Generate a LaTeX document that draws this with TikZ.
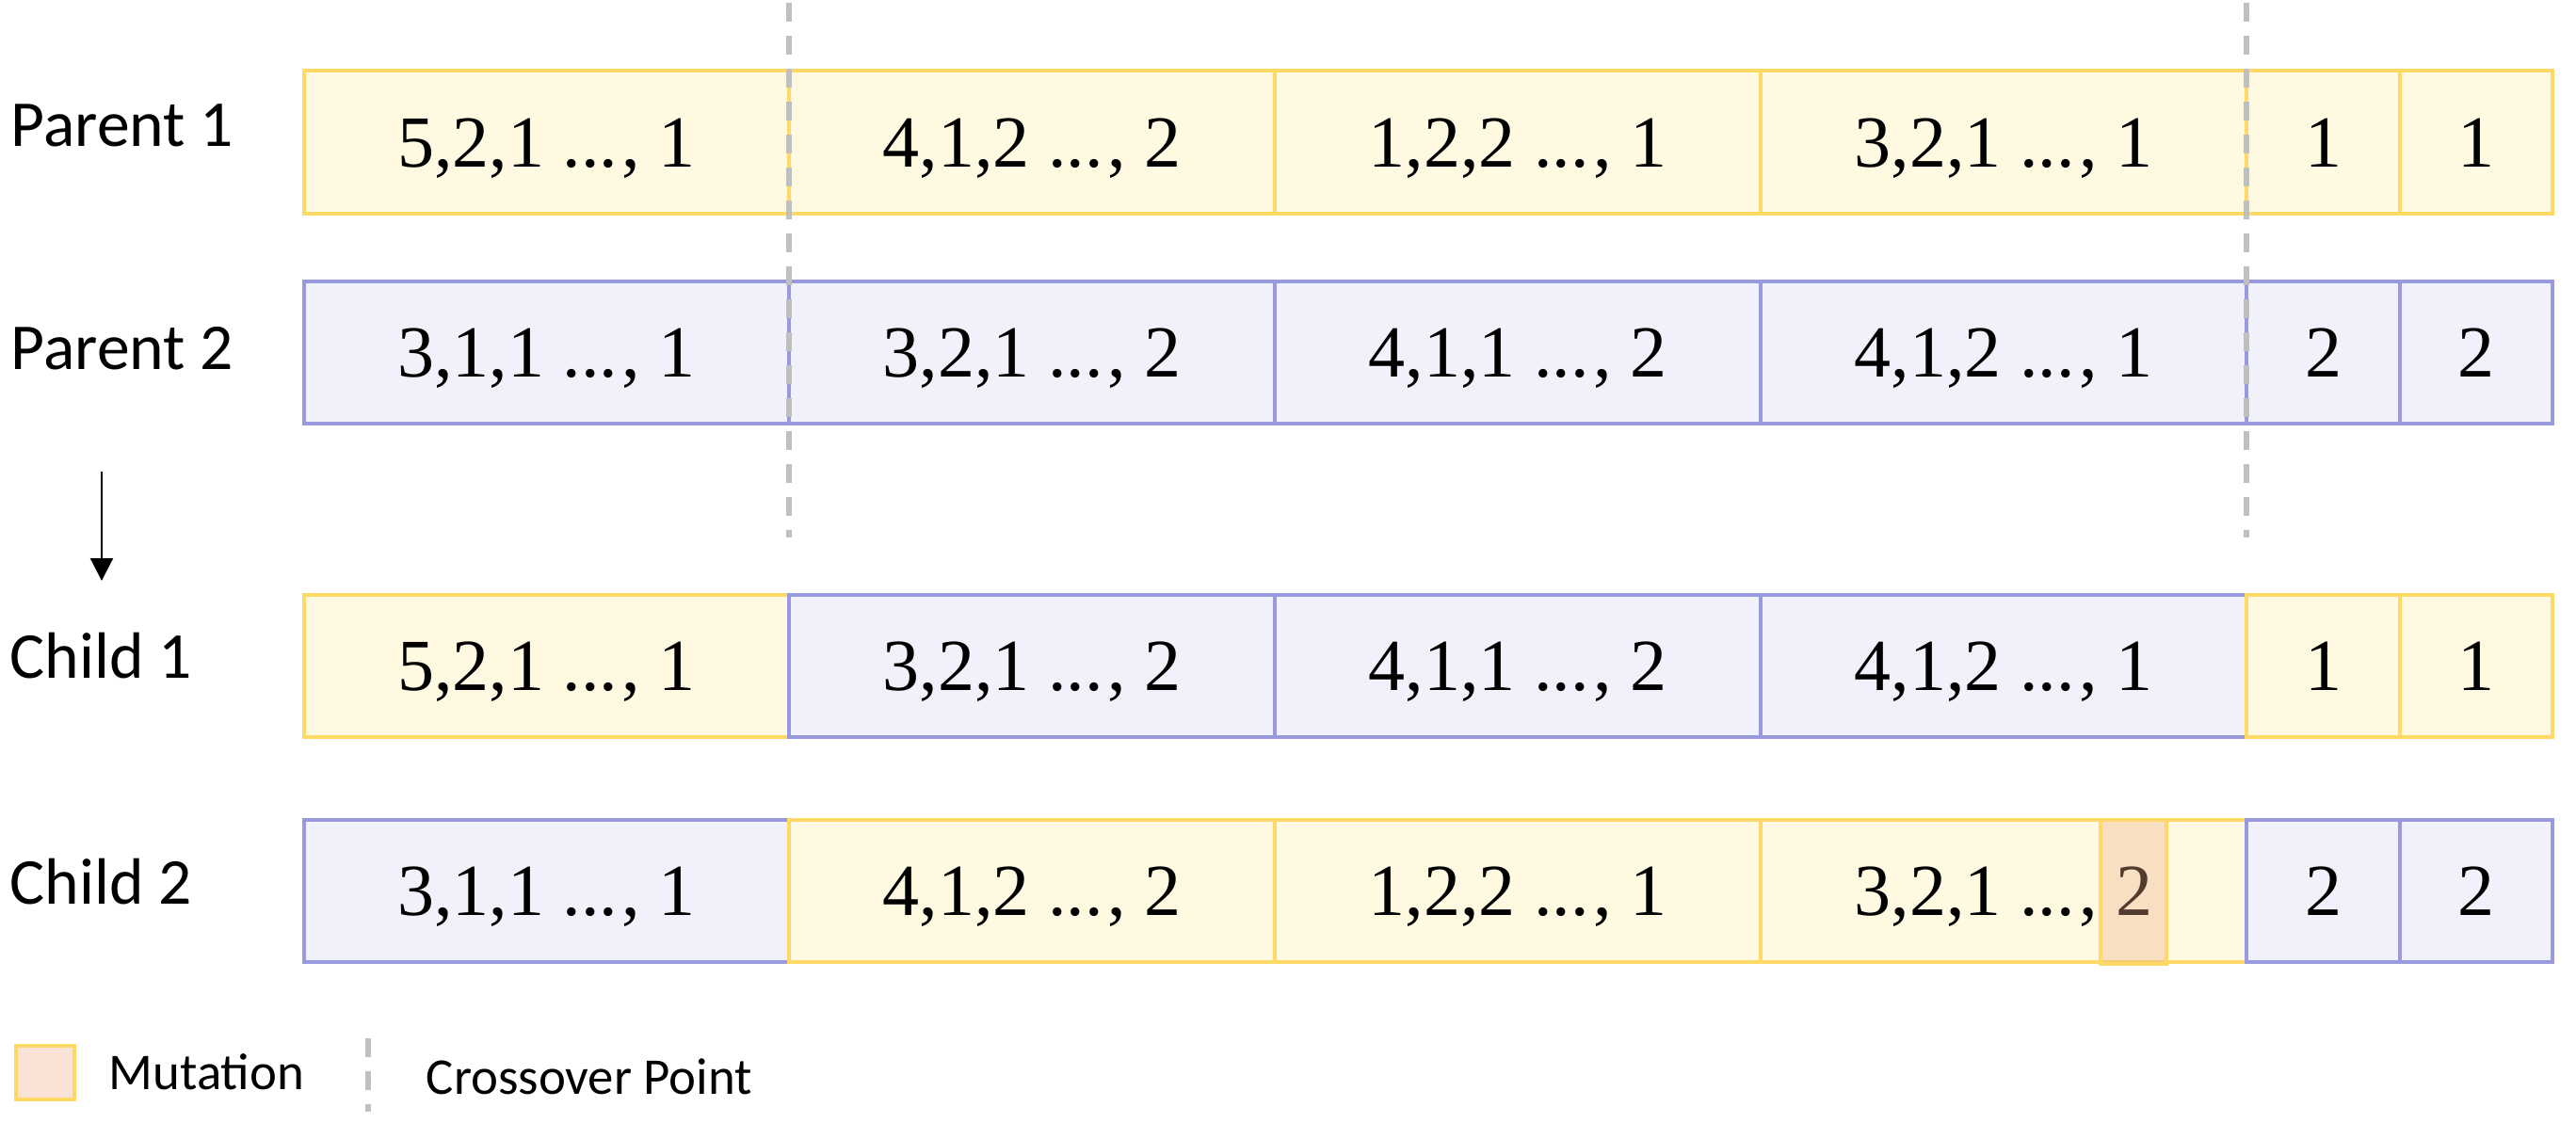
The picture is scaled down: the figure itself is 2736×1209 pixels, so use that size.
\documentclass[tikz,border=0pt]{standalone}
\usepackage{fontspec}
\setmainfont{Liberation Serif}
\newfontfamily\labfont{Carlito}
\usetikzlibrary{arrows.meta}
\definecolor{ybord}{HTML}{FFD966}
\definecolor{yfill}{HTML}{FFF9E1}
\definecolor{pbord}{HTML}{9999DD}
\definecolor{pfill}{HTML}{F0F1FA}
\definecolor{xgray}{HTML}{BFBFBF}
\definecolor{mutc}{RGB}{237,173,134}
\tikzset{
  cellbase/.style={rectangle, inner sep=0pt, line width=0.9pt,
    font=\fontsize{19.5}{22}\selectfont, text height=13.2pt, text depth=0pt},
  ycell/.style={cellbase, draw=ybord, fill=yfill},
  pcell/.style={cellbase, draw=pbord, fill=pfill},
  mutbox/.style={rectangle, inner sep=0pt, line width=0.9pt, draw=ybord,
    fill=mutc, fill opacity=0.34},
  rowlabel/.style={font=\labfont\fontsize{17.4}{20}\selectfont, anchor=base west, inner sep=0pt},
  leglabel/.style={font=\labfont\fontsize{13.7}{16}\selectfont, anchor=base west, inner sep=0pt},
  crossline/.style={draw=xgray, line width=1.3pt, dash pattern=on 5pt off 3.75pt},
  flowarrow/.style={draw=black, line width=0.55pt, -{Triangle[length=6pt,width=6pt]}}
}
% name, style, x1, x2, y1, y2, text
\newcommand\mkseg[7]{%
  \node[#2, minimum width={(#4-#3)*0.25pt}, minimum height={(#6-#5)*0.25pt}]
    (#1) at ({(#3+#4)/2},{(#5+#6)/2}) {#7};}
\newcommand\dts{...\kern1.2pt}
\begin{document}
\begin{tikzpicture}[x=0.25pt,y=-0.25pt]
\useasboundingbox (0,0) rectangle (2736,1209);

% row labels
\node[rowlabel] (lp1) at (11,155) {Parent 1};
\node[rowlabel] (lp2) at (11,392) {Parent 2};
\node[rowlabel] (lc1) at (10,720) {Child 1};
\node[rowlabel] (lc2) at (10,960) {Child 2};

% Parent 1
\mkseg{p1a}{ycell}{323}{838}{75}{227}{5,2,1 \dts, 1}
\mkseg{p1b}{ycell}{838}{1354}{75}{227}{4,1,2 \dts, 2}
\mkseg{p1c}{ycell}{1354}{1870}{75}{227}{1,2,2 \dts, 1}
\mkseg{p1d}{ycell}{1870}{2386}{75}{227}{3,2,1 \dts, 1}
\mkseg{p1e}{ycell}{2386}{2549}{75}{227}{1}
\mkseg{p1f}{ycell}{2549}{2711}{75}{227}{1}

% Parent 2
\mkseg{p2a}{pcell}{323}{838}{299}{450}{3,1,1 \dts, 1}
\mkseg{p2b}{pcell}{838}{1354}{299}{450}{3,2,1 \dts, 2}
\mkseg{p2c}{pcell}{1354}{1870}{299}{450}{4,1,1 \dts, 2}
\mkseg{p2d}{pcell}{1870}{2386}{299}{450}{4,1,2 \dts, 1}
\mkseg{p2e}{pcell}{2386}{2549}{299}{450}{2}
\mkseg{p2f}{pcell}{2549}{2711}{299}{450}{2}

% Child 1
\mkseg{c1a}{ycell}{323}{838}{632}{783}{5,2,1 \dts, 1}
\mkseg{c1b}{pcell}{838}{1354}{632}{783}{3,2,1 \dts, 2}
\mkseg{c1c}{pcell}{1354}{1870}{632}{783}{4,1,1 \dts, 2}
\mkseg{c1d}{pcell}{1870}{2386}{632}{783}{4,1,2 \dts, 1}
\mkseg{c1e}{ycell}{2386}{2549}{632}{783}{1}
\mkseg{c1f}{ycell}{2549}{2711}{632}{783}{1}

% Child 2
\mkseg{c2a}{pcell}{323}{838}{871}{1022}{3,1,1 \dts, 1}
\mkseg{c2b}{ycell}{838}{1354}{871}{1022}{4,1,2 \dts, 2}
\mkseg{c2c}{ycell}{1354}{1870}{871}{1022}{1,2,2 \dts, 1}
\mkseg{c2d}{ycell}{1870}{2386}{871}{1022}{3,2,1 \dts, 2}
\mkseg{c2e}{pcell}{2386}{2549}{871}{1022}{2}
\mkseg{c2f}{pcell}{2549}{2711}{871}{1022}{2}

% mutation overlay
\node[mutbox, minimum width={70*0.25pt}, minimum height={153*0.25pt}] (mut) at (2266,947.5) {};

% crossover lines
\coordinate (xa1) at (838,3);
\coordinate (xa2) at (838,571);
\coordinate (xb1) at (2386,3);
\coordinate (xb2) at (2386,571);
\draw[crossline] (xa1) -- (xa2);
\draw[crossline] (xb1) -- (xb2);

% flow arrow
\coordinate (ar1) at (108,501);
\coordinate (ar2) at (108,617);
\draw[flowarrow] (ar1) -- (ar2);

% legend
\node[mutbox, minimum width={62*0.25pt}, minimum height={57*0.25pt}] (legm) at (48,1139.5) {};
\node[leglabel] (legmt) at (115,1157) {Mutation};
\coordinate (lx1) at (391,1103);
\coordinate (lx2) at (391,1181);
\draw[crossline] (lx1) -- (lx2);
\node[leglabel] (legxt) at (452,1162) {Crossover Point};
\end{tikzpicture}
\end{document}
